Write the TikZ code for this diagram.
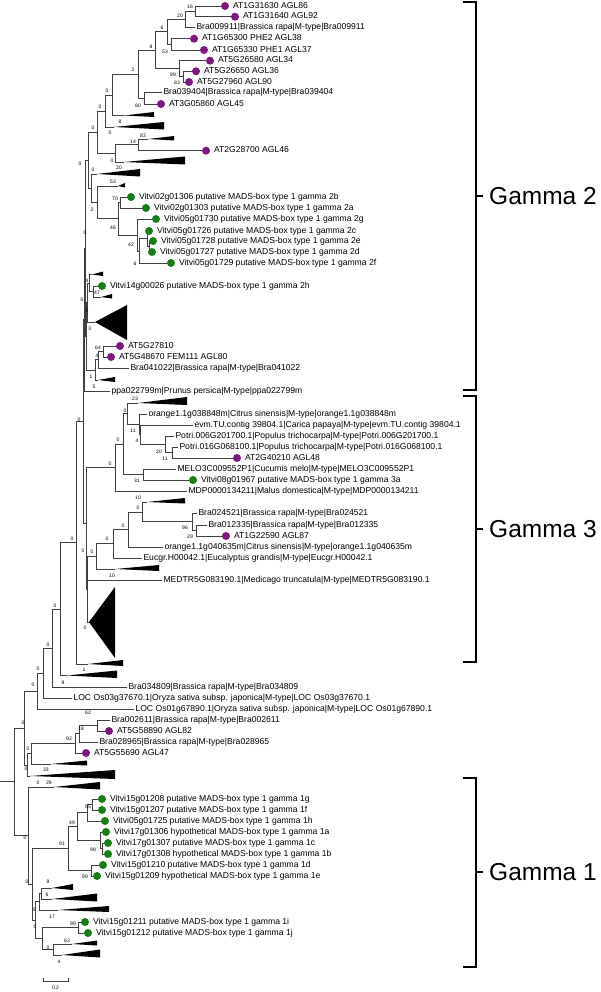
\documentclass[tikz,border=0pt]{standalone}
\usepackage{fontspec}
\setmainfont{Liberation Sans}
\definecolor{athpurple}{RGB}{125,25,125}
\definecolor{vitgreen}{RGB}{25,125,25}
\tikzset{
  br/.style={draw=black!75, line width=0.7pt},
  tax/.style={anchor=west, inner sep=0pt, outer sep=1.5pt, text height=6.2pt, text depth=1.8pt, font=\fontsize{8.6}{9}\selectfont},
  bs/.style={inner sep=0pt, font=\fontsize{5}{5}\selectfont},
  ath/.style={fill=athpurple},
  vit/.style={fill=vitgreen},
  clade/.style={fill=black},
  brk/.style={line width=2.4pt},
  grp/.style={anchor=west, inner sep=0pt, font=\fontsize{24.5}{26}\selectfont}
}
\begin{document}
\begin{tikzpicture}[x=1pt,y=-1pt]
\useasboundingbox (0,0) rectangle (601,992);
% taxa of gamma 2
\coordinate (d86) at (225,6);
\coordinate (d92) at (235,16.7);
\node[tax] (b9911) at (195,27.3) {Bra009911|Brassica rapa|M-type|Bra009911};
\coordinate (d38) at (194,38.7);
\coordinate (d37) at (204,50);
\coordinate (d34) at (210,60.7);
\coordinate (d36) at (196,71.3);
\coordinate (d90) at (189,82);
\node[tax] (b9404) at (162,92.7) {Bra039404|Brassica rapa|M-type|Bra039404};
\coordinate (d45) at (161,104);
\coordinate (d46) at (206,150.7);
\coordinate (v2b) at (131,197);
\coordinate (v2a) at (146,208);
\coordinate (v2g) at (156,219);
\coordinate (v2c) at (149,231);
\coordinate (v2e) at (153,241);
\coordinate (v2d) at (152,252);
\coordinate (v2f) at (171,263);
\coordinate (v2h) at (102,286);
\coordinate (d810) at (120,346);
\coordinate (d80) at (111,357);
\node[tax] (b1022) at (129,368) {Bra041022|Brassica rapa|M-type|Bra041022};
\node[tax] (ppa) at (110,391) {ppa022799m|Prunus persica|M-type|ppa022799m};
% taxa of gamma 3
\node[tax] (or848) at (147,414) {orange1.1g038848m|Citrus sinensis|M-type|orange1.1g038848m};
\node[tax] (evm) at (193,425) {evm.TU.contig 39804.1|Carica papaya|M-type|evm.TU.contig 39804.1};
\node[tax] (p006) at (174,436) {Potri.006G201700.1|Populus trichocarpa|M-type|Potri.006G201700.1};
\node[tax] (p016) at (178,447) {Potri.016G068100.1|Populus trichocarpa|M-type|Potri.016G068100.1};
\coordinate (d48) at (237,458);
\node[tax] (melo) at (176,469) {MELO3C009552P1|Cucumis melo|M-type|MELO3C009552P1};
\coordinate (v3a) at (193,480);
\node[tax] (mdp) at (187,491) {MDP0000134211|Malus domestica|M-type|MDP0000134211};
\node[tax] (b4521) at (197,513) {Bra024521|Brassica rapa|M-type|Bra024521};
\node[tax] (b2335) at (207,525) {Bra012335|Brassica rapa|M-type|Bra012335};
\coordinate (d87) at (226,536);
\node[tax] (or635) at (163,547) {orange1.1g040635m|Citrus sinensis|M-type|orange1.1g040635m};
\node[tax] (eucgr) at (142,558) {Eucgr.H00042.1|Eucalyptus grandis|M-type|Eucgr.H00042.1};
\node[tax] (medtr) at (162,580) {MEDTR5G083190.1|Medicago truncatula|M-type|MEDTR5G083190.1};
% taxa between gamma 3 and gamma 1
\node[tax] (b4809) at (127,687) {Bra034809|Brassica rapa|M-type|Bra034809};
\node[tax] (os03) at (72,698) {LOC Os03g37670.1|Oryza sativa subsp. japonica|M-type|LOC Os03g37670.1};
\node[tax] (os01) at (134,709) {LOC Os01g67890.1|Oryza sativa subsp. japonica|M-type|LOC Os01g67890.1};
\node[tax] (b2611) at (110,720) {Bra002611|Brassica rapa|M-type|Bra002611};
\coordinate (d82) at (109,731);
\node[tax] (b8965) at (98,742) {Bra028965|Brassica rapa|M-type|Bra028965};
\coordinate (d47) at (86,753);
% taxa of gamma 1
\coordinate (v1g) at (102,799);
\coordinate (v1f) at (102,810);
\coordinate (v1h) at (105,821);
\coordinate (v1a) at (106,832);
\coordinate (v1c) at (108,843);
\coordinate (v1b) at (108,854);
\coordinate (v1d) at (103,865);
\coordinate (v1e) at (97,876);
\coordinate (v1i) at (85,922);
\coordinate (v1j) at (88,933);
% collapsed clades
\coordinate (t1) at (124,115.5);
\coordinate (t2) at (114,127);
\coordinate (t3) at (148,139);
\coordinate (t4) at (124,162);
\coordinate (t5) at (97,174);
\coordinate (t6) at (118,186);
\coordinate (t7) at (92,274.5);
\coordinate (t8) at (101,297);
\coordinate (t9) at (95,322);
\coordinate (t10) at (98,380);
\coordinate (t11) at (138,403);
\coordinate (t12) at (147,502);
\coordinate (t13) at (115,569);
\coordinate (t14) at (89,622);
\coordinate (t15) at (88,664);
\coordinate (t60) at (67,675.5);
\coordinate (t68) at (51,764);
\coordinate (t69) at (30,776);
\coordinate (t70) at (54,787);
\coordinate (t79) at (52,888);
\coordinate (t80) at (52,899);
\coordinate (t81) at (58,910);
\coordinate (t84) at (72,944);
\coordinate (t85) at (62,955);
% inner nodes
\coordinate (n16) at (195,11.35);
\coordinate (n20) at (185,19.3);
\coordinate (n53) at (171,44.35);
\coordinate (n6) at (167,31.8);
\coordinate (nY) at (183,76.65);
\coordinate (nX) at (179,68.7);
\coordinate (n8) at (155,50.25);
\coordinate (n80) at (144,98.35);
\coordinate (n2) at (138,74.3);
\coordinate (nA) at (112,94.9);
\coordinate (nB) at (105,111.2);
\coordinate (n14) at (138,144.85);
\coordinate (n115) at (115,153.4);
\coordinate (nC) at (97,132.3);
\coordinate (n70) at (120,202.5);
\coordinate (nS) at (149,246.5);
\coordinate (nR) at (147,238.75);
\coordinate (nQ) at (139,250.9);
\coordinate (n42) at (137,234.9);
\coordinate (n46) at (118,218.7);
\coordinate (nP2) at (97,202.4);
\coordinate (nE) at (91,188.2);
\coordinate (nD) at (88,160.25);
\coordinate (n47) at (93,291.5);
\coordinate (nR4) at (89,283);
\coordinate (nR0) at (87,302.5);
\coordinate (n64) at (103,351.5);
\coordinate (n4b) at (98,359.75);
\coordinate (n1) at (95,369.9);
\coordinate (nS0) at (86,336.2);
\coordinate (nF) at (85,248.2);
\coordinate (nT) at (84,319.6);
\coordinate (nP20) at (172,452.5);
\coordinate (nP) at (165,444.25);
\coordinate (n4c) at (140,434.6);
\coordinate (n11) at (139,424.3);
\coordinate (n0a) at (127,413.7);
\coordinate (nMELO) at (143,474.5);
\coordinate (n0b) at (123,444.1);
\coordinate (n0c) at (115,467.5);
\coordinate (nAGL87) at (196,530.5);
\coordinate (nBra) at (192,521.75);
\coordinate (n10) at (142,511.9);
\coordinate (n0d) at (128,529.4);
\coordinate (n0e) at (113,543.7);
\coordinate (n0f) at (96,556.4);
\coordinate (n0g) at (87,589.2);
\coordinate (n0h) at (86,522.9);
\coordinate (nV) at (83,421.2);
\coordinate (nU) at (76,542.6);
\coordinate (nW) at (60,609);
\coordinate (nXb) at (52,648);
\coordinate (nYb) at (43,673);
\coordinate (nZ) at (37,691);
\coordinate (n62) at (97,725.5);
\coordinate (n18) at (79,733.75);
\coordinate (n92) at (75,743.4);
\coordinate (nAG) at (31,753.7);
\coordinate (nAH) at (27,764.85);
\coordinate (nRU) at (24,727.9);
\coordinate (n95) at (92,804.5);
\coordinate (nH) at (87,812.75);
\coordinate (n98) at (102,848.5);
\coordinate (nA1) at (100,840.25);
\coordinate (n49) at (77,826.5);
\coordinate (n99a) at (91,870.5);
\coordinate (n91) at (68,848.5);
\coordinate (n96) at (41,893.5);
\coordinate (nTT) at (39,901.75);
\coordinate (n99b) at (78,927.5);
\coordinate (n63) at (53,949.5);
\coordinate (n0x) at (42,938.5);
\coordinate (nLow) at (35,920.1);
\coordinate (nG1b) at (32,884.3);
\coordinate (nG1) at (28,835.65);
\coordinate (root) at (14,781.8);
\coordinate (r0) at (0,781.8);
% branches
\draw[br] (n16) |- (d86) (n16) |- (d92) (n20) |- (n16) (n20) |- (b9911.west);
\draw[br] (n53) |- (d38) (n53) |- (d37) (n6) |- (n20) (n6) |- (n53);
\draw[br] (nY) |- (d36) (nY) |- (d90) (nX) |- (d34) (nX) |- (nY);
\draw[br] (n8) |- (n6) (n8) |- (nX) (n80) |- (b9404.west) (n80) |- (d45);
\draw[br] (n2) |- (n8) (n2) |- (n80) (nA) |- (n2) (nA) |- (t1) (nB) |- (nA) (nB) |- (t2);
\draw[br] (n14) |- (t3) (n14) |- (d46) (n115) |- (n14) (n115) |- (t4) (nC) |- (nB) (nC) |- (n115);
\draw[br] (n70) |- (v2b) (n70) |- (v2a) (nS) |- (v2e) (nS) |- (v2d) (nR) |- (v2c) (nR) |- (nS);
\draw[br] (nQ) |- (nR) (nQ) |- (v2f) (n42) |- (v2g) (n42) |- (nQ) (n46) |- (n70) (n46) |- (n42);
\draw[br] (nP2) |- (t6) (nP2) |- (n46) (nE) |- (t5) (nE) |- (nP2) (nD) |- (nC) (nD) |- (nE);
\draw[br] (n47) |- (v2h) (n47) |- (t8) (nR4) |- (t7) (nR4) |- (n47) (nR0) |- (nR4) (nR0) |- (t9);
\draw[br] (n64) |- (d810) (n64) |- (d80) (n4b) |- (n64) (n4b) |- (b1022.west) (n1) |- (n4b) (n1) |- (t10);
\draw[br] (nS0) |- (nR0) (nS0) |- (n1) (nF) |- (nD) (nF) |- (nS0) (nT) |- (nF) (nT) |- (ppa.west);
\draw[br] (nP20) |- (p016.west) (nP20) |- (d48) (nP) |- (p006.west) (nP) |- (nP20);
\draw[br] (n4c) |- (evm.west) (n4c) |- (nP) (n11) |- (or848.west) (n11) |- (n4c) (n0a) |- (t11) (n0a) |- (n11);
\draw[br] (nMELO) |- (melo.west) (nMELO) |- (v3a) (n0b) |- (n0a) (n0b) |- (nMELO) (n0c) |- (n0b) (n0c) |- (mdp.west);
\draw[br] (nAGL87) |- (b2335.west) (nAGL87) |- (d87) (nBra) |- (b4521.west) (nBra) |- (nAGL87);
\draw[br] (n10) |- (t12) (n10) |- (nBra) (n0d) |- (n10) (n0d) |- (or635.west) (n0e) |- (n0d) (n0e) |- (eucgr.west);
\draw[br] (n0f) |- (n0e) (n0f) |- (t13) (n0g) |- (n0f) (n0g) |- (medtr.west) (n0g) |- (t14);
\draw[br] (n0h) |- (n0c) (n0h) |- (n0g) (nV) |- (nT) (nV) |- (n0h) (nU) |- (nV) (nU) |- (t15);
\draw[br] (nW) |- (nU) (nW) |- (t60) (nXb) |- (nW) (nXb) |- (b4809.west) (nYb) |- (nXb) (nYb) |- (os03.west);
\draw[br] (nZ) |- (nYb) (nZ) |- (os01.west) (n62) |- (b2611.west) (n62) |- (d82) (n18) |- (n62) (n18) |- (b8965.west);
\draw[br] (n92) |- (n18) (n92) |- (d47) (nAG) |- (n92) (nAG) |- (t68) (nAH) |- (nAG) (nAH) |- (t69);
\draw[br] (nRU) |- (nZ) (nRU) |- (nAH) (root) |- (nRU) (root) |- (nG1) (r0) -- (root);
\draw[br] (n95) |- (v1g) (n95) |- (v1f) (nH) |- (n95) (nH) |- (v1h) (n98) |- (v1c) (n98) |- (v1b);
\draw[br] (nA1) |- (v1a) (nA1) |- (n98) (n49) |- (nH) (n49) |- (nA1) (n99a) |- (v1d) (n99a) |- (v1e);
\draw[br] (n91) |- (n49) (n91) |- (n99a) (n96) |- (t79) (n96) |- (t80) (nTT) |- (n96) (nTT) |- (t81);
\draw[br] (n99b) |- (v1i) (n99b) |- (v1j) (n63) |- (t84) (n63) |- (t85) (n0x) |- (n99b) (n0x) |- (n63);
\draw[br] (nLow) |- (nTT) (nLow) |- (n0x) (nG1b) |- (n91) (nG1b) |- (nLow) (nG1) |- (t70) (nG1) |- (nG1b);
% triangles
\fill[clade] (t1) -- (154,112) -- (154,117) -- cycle;
\fill[clade] (t2) -- (164,122) -- (164,129.5) -- cycle;
\fill[clade] (t3) -- (174,136) -- (174,140.5) -- cycle;
\fill[clade] (t4) -- (185,156.5) -- (185,164.5) -- cycle;
\fill[clade] (t5) -- (140,169) -- (140,176.5) -- cycle;
\fill[clade] (t6) -- (125,183) -- (125,187.5) -- cycle;
\fill[clade] (t7) -- (103,271.5) -- (103,276) -- cycle;
\fill[clade] (t8) -- (112,294) -- (112,298.5) -- cycle;
\fill[clade] (t9) -- (127,305) -- (127,340) -- cycle;
\fill[clade] (t10) -- (115,377) -- (115,382) -- cycle;
\fill[clade] (t11) -- (187,397) -- (187,405) -- cycle;
\fill[clade] (t12) -- (185,498) -- (185,503.5) -- cycle;
\fill[clade] (t13) -- (159,565) -- (159,571) -- cycle;
\fill[clade] (t14) -- (115,587) -- (115,658) -- cycle;
\fill[clade] (t15) -- (123,660) -- (123,666) -- cycle;
\fill[clade] (t60) -- (117,670.5) -- (117,678) -- cycle;
\fill[clade] (t68) -- (87,760.5) -- (87,765.5) -- cycle;
\fill[clade] (t69) -- (115,770) -- (115,779) -- cycle;
\fill[clade] (t70) -- (100,782) -- (100,789.5) -- cycle;
\fill[clade] (t79) -- (73,884) -- (73,890) -- cycle;
\fill[clade] (t80) -- (97,893.5) -- (97,901.5) -- cycle;
\fill[clade] (t81) -- (109,906) -- (109,912) -- cycle;
\fill[clade] (t84) -- (97,940.5) -- (97,945.5) -- cycle;
\fill[clade] (t85) -- (100,949.5) -- (100,957.5) -- cycle;
% dots and their names
\fill[ath] (d86) circle (4); \node[tax] at (231.5,6) {AT1G31630 AGL86};
\fill[ath] (d92) circle (4); \node[tax] at (241.5,16.7) {AT1G31640 AGL92};
\fill[ath] (d38) circle (4); \node[tax] at (200.5,38.7) {AT1G65300 PHE2 AGL38};
\fill[ath] (d37) circle (4); \node[tax] at (210.5,50) {AT1G65330 PHE1 AGL37};
\fill[ath] (d34) circle (4); \node[tax] at (216.5,60.7) {AT5G26580 AGL34};
\fill[ath] (d36) circle (4); \node[tax] at (202.5,71.3) {AT5G26650 AGL36};
\fill[ath] (d90) circle (4); \node[tax] at (195.5,82) {AT5G27960 AGL90};
\fill[ath] (d45) circle (4); \node[tax] at (167.5,104) {AT3G05860 AGL45};
\fill[ath] (d46) circle (4); \node[tax] at (212.5,150.7) {AT2G28700 AGL46};
\fill[vit] (v2b) circle (4); \node[tax] at (137.5,197) {Vitvi02g01306 putative MADS-box type 1 gamma 2b};
\fill[vit] (v2a) circle (4); \node[tax] at (152.5,208) {Vitvi02g01303 putative MADS-box type 1 gamma 2a};
\fill[vit] (v2g) circle (4); \node[tax] at (162.5,219) {Vitvi05g01730 putative MADS-box type 1 gamma 2g};
\fill[vit] (v2c) circle (4); \node[tax] at (155.5,231) {Vitvi05g01726 putative MADS-box type 1 gamma 2c};
\fill[vit] (v2e) circle (4); \node[tax] at (159.5,241) {Vitvi05g01728 putative MADS-box type 1 gamma 2e};
\fill[vit] (v2d) circle (4); \node[tax] at (158.5,252) {Vitvi05g01727 putative MADS-box type 1 gamma 2d};
\fill[vit] (v2f) circle (4); \node[tax] at (177.5,263) {Vitvi05g01729 putative MADS-box type 1 gamma 2f};
\fill[vit] (v2h) circle (4); \node[tax] at (108.5,286) {Vitvi14g00026 putative MADS-box type 1 gamma 2h};
\fill[ath] (d810) circle (4); \node[tax] at (126.5,346) {AT5G27810};
\fill[ath] (d80) circle (4); \node[tax] at (117.5,357) {AT5G48670 FEM111 AGL80};
\fill[ath] (d48) circle (4); \node[tax] at (243.5,458) {AT2G40210 AGL48};
\fill[vit] (v3a) circle (4); \node[tax] at (199.5,480) {Vitvi08g01967 putative MADS-box type 1 gamma 3a};
\fill[ath] (d87) circle (4); \node[tax] at (232.5,536) {AT1G22590 AGL87};
\fill[ath] (d82) circle (4); \node[tax] at (115.5,731) {AT5G58890 AGL82};
\fill[ath] (d47) circle (4); \node[tax] at (92.5,753) {AT5G55690 AGL47};
\fill[vit] (v1g) circle (4); \node[tax] at (108.5,799) {Vitvi15g01208 putative MADS-box type 1 gamma 1g};
\fill[vit] (v1f) circle (4); \node[tax] at (108.5,810) {Vitvi15g01207 putative MADS-box type 1 gamma 1f};
\fill[vit] (v1h) circle (4); \node[tax] at (111.5,821) {Vitvi05g01725 putative MADS-box type 1 gamma 1h};
\fill[vit] (v1a) circle (4); \node[tax] at (112.5,832) {Vitvi17g01306 hypothetical MADS-box type 1 gamma 1a};
\fill[vit] (v1c) circle (4); \node[tax] at (114.5,843) {Vitvi17g01307 putative MADS-box type 1 gamma 1c};
\fill[vit] (v1b) circle (4); \node[tax] at (114.5,854) {Vitvi17g01308 hypothetical MADS-box type 1 gamma 1b};
\fill[vit] (v1d) circle (4); \node[tax] at (109.5,865) {Vitvi15g01210 putative MADS-box type 1 gamma 1d};
\fill[vit] (v1e) circle (4); \node[tax] at (103.5,876) {Vitvi15g01209 hypothetical MADS-box type 1 gamma 1e};
\fill[vit] (v1i) circle (4); \node[tax] at (91.5,922) {Vitvi15g01211 putative MADS-box type 1 gamma 1i};
\fill[vit] (v1j) circle (4); \node[tax] at (94.5,933) {Vitvi15g01212 putative MADS-box type 1 gamma 1j};
% bootstrap values
\node[bs] at (190,7) {16}; \node[bs] at (180,16) {20}; \node[bs] at (162,28) {6};
\node[bs] at (165,52) {53}; \node[bs] at (151,47) {8}; \node[bs] at (173,75) {89};
\node[bs] at (177,83) {83}; \node[bs] at (138,106) {80}; \node[bs] at (133,70) {2};
\node[bs] at (107,91) {0}; \node[bs] at (100,107) {0}; \node[bs] at (120,122) {8};
\node[bs] at (93,128) {0}; \node[bs] at (110,133) {0}; \node[bs] at (143,136) {83};
\node[bs] at (133,142) {14}; \node[bs] at (112,161) {0}; \node[bs] at (80,164) {0};
\node[bs] at (119,168) {20}; \node[bs] at (93,170) {0}; \node[bs] at (113,182) {53};
\node[bs] at (115,199) {70}; \node[bs] at (92,210) {2}; \node[bs] at (113,228) {46};
\node[bs] at (85,233) {0}; \node[bs] at (131,245) {42}; \node[bs] at (135,264) {6};
\node[bs] at (87,281) {4}; \node[bs] at (97,293) {47}; \node[bs] at (82,300) {0};
\node[bs] at (87,311) {0}; \node[bs] at (90,329) {0}; \node[bs] at (98,348) {64};
\node[bs] at (97,356) {4}; \node[bs] at (91,377) {1}; \node[bs] at (94,387) {5};
\node[bs] at (135,399) {23}; \node[bs] at (125,411) {0}; \node[bs] at (79,420) {0};
\node[bs] at (133,431) {11}; \node[bs] at (137,441) {4}; \node[bs] at (118,440) {0};
\node[bs] at (159,452) {20}; \node[bs] at (165,459) {11}; \node[bs] at (110,464) {0};
\node[bs] at (137,481) {31}; \node[bs] at (138,498) {10}; \node[bs] at (138,508) {0};
\node[bs] at (123,526) {0}; \node[bs] at (185,528) {96}; \node[bs] at (190,537) {29};
\node[bs] at (107,539) {0}; \node[bs] at (72,539) {0}; \node[bs] at (92,552) {0};
\node[bs] at (83,551) {0}; \node[bs] at (112,576) {10}; \node[bs] at (55,606) {0};
\node[bs] at (85,628) {0}; \node[bs] at (48,645) {0}; \node[bs] at (38,669) {0};
\node[bs] at (84,670) {1}; \node[bs] at (63,683) {9}; \node[bs] at (33,685) {0};
\node[bs] at (23,723) {0}; \node[bs] at (88,713) {62}; \node[bs] at (81,729) {18};
\node[bs] at (69,739) {92}; \node[bs] at (28,749) {0}; \node[bs] at (26,769) {0};
\node[bs] at (46,770) {33}; \node[bs] at (38,783) {0}; \node[bs] at (49,783) {29};
\node[bs] at (88,807) {95}; \node[bs] at (72,823) {49}; \node[bs] at (25,838) {0};
\node[bs] at (62,844) {91}; \node[bs] at (93,850) {98}; \node[bs] at (85,877) {99};
\node[bs] at (27,882) {0}; \node[bs] at (48,882) {9}; \node[bs] at (47,895) {6};
\node[bs] at (34,910) {0}; \node[bs] at (52,917) {17}; \node[bs] at (73,924) {99};
\node[bs] at (35,927) {0}; \node[bs] at (67,941) {63}; \node[bs] at (48,948) {0};
\node[bs] at (59,962) {4};
% scale bar
\draw[br] (43,978) -- (43,981) -- (68,981) -- (68,978);
\node[bs] at (55.5,988) {0.2};
% group brackets
\draw[brk] (463,2) -- (476,2) -- (476,390) -- (463,390);
\draw[brk] (476,196) -- (483,196);
\node[grp] at (489,196) {Gamma 2};
\draw[brk] (463,396) -- (476,396) -- (476,662) -- (463,662);
\draw[brk] (476,529) -- (483,529);
\node[grp] at (489,529) {Gamma 3};
\draw[brk] (463,778) -- (476,778) -- (476,967) -- (463,967);
\draw[brk] (476,872) -- (483,872);
\node[grp] at (489,872) {Gamma 1};
\end{tikzpicture}
\end{document}
